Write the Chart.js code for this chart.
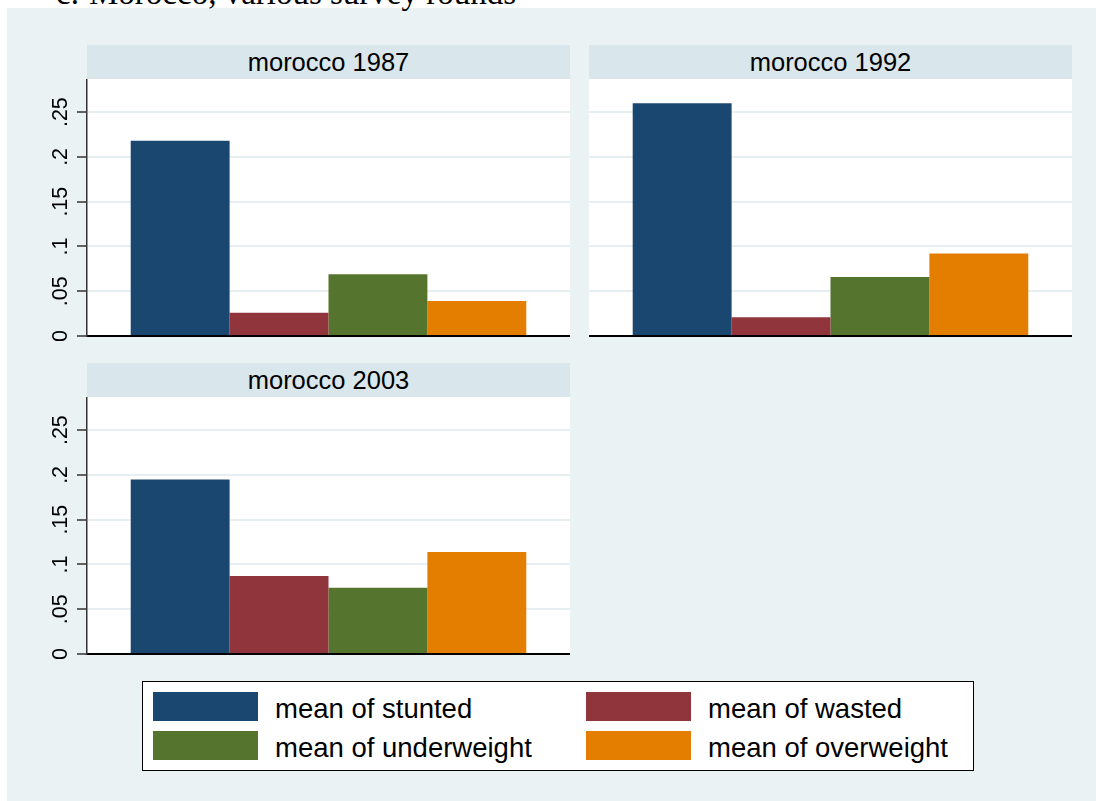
<!DOCTYPE html>
<html>
<head>
<meta charset="utf-8">
<script src="https://cdn.jsdelivr.net/npm/chart.js@4.4.1/dist/chart.umd.min.js"></script>
<style>
  html, body { margin: 0; padding: 0; background: #ffffff; }
  body { width: 1096px; height: 801px; position: relative; overflow: hidden; }
  #region { position: absolute; left: 7px; top: 8px; right: 0; bottom: 0; background: #eaf2f3; }
  .caption { position: absolute; font-family: "Liberation Serif", "Times New Roman", serif; font-size: 33px; line-height: 33px; color: #000; white-space: nowrap; }
  .strip { position: absolute; height: 34px; line-height: 34px; background: #d9e6eb; text-align: center;
           font-family: "Liberation Sans", Arial, Helvetica, sans-serif; font-size: 25.5px; color: #000; }
  canvas { position: absolute; }
  #legend { position: absolute; left: 142px; top: 681px; width: 830px; height: 88px; background: #fff; border: 1.5px solid #000; }
  .sw { position: absolute; width: 105px; height: 29px; }
  .lt { position: absolute; font-family: "Liberation Sans", Arial, Helvetica, sans-serif; font-size: 27.5px; line-height: 29px; color: #000; white-space: nowrap; }
</style>
</head>
<body>
<div id="region"></div>
<div class="caption" style="left:56px; top:-23px;">c.</div>
<div class="caption" style="left:89px; top:-23px;">Morocco, various survey rounds</div>

<div class="strip" id="strip0" style="left:87px; top:45px; width:483px;"></div>
<div class="strip" id="strip1" style="left:589px; top:45px; width:483px;"></div>
<div class="strip" id="strip2" style="left:87px; top:363px; width:483px;"></div>

<canvas id="c0" width="570" height="262" style="left:0px; top:79px;"></canvas>
<canvas id="c1" width="483" height="262" style="left:589px; top:79px;"></canvas>
<canvas id="c2" width="570" height="262" style="left:0px; top:397px;"></canvas>

<div id="legend"></div>

<script>
// Survey rounds (one panel each)
const panels = ['morocco 1987', 'morocco 1992', 'morocco 2003'];

// Share of children per indicator, by survey round
const stunted     = [0.218, 0.260, 0.195];
const wasted      = [0.026, 0.021, 0.087];
const underweight = [0.069, 0.066, 0.074];
const overweight  = [0.039, 0.092, 0.114];

// Value axis
const yTicks = [0, 0.05, 0.1, 0.15, 0.2, 0.25];
const yTickLabels = ['0', '.05', '.1', '.15', '.2', '.25'];
const yMax = 0.287;

const seriesNames = ['mean of stunted', 'mean of wasted', 'mean of underweight', 'mean of overweight'];
const seriesValues = [stunted, wasted, underweight, overweight];
const seriesColors = ['#1a476f', '#90353b', '#55752f', '#e37e00'];

// White plot region behind the bars
const plotBackground = {
  id: 'plotBackground',
  beforeDraw(chart) {
    const { ctx, chartArea: a } = chart;
    ctx.save();
    ctx.fillStyle = '#ffffff';
    ctx.fillRect(a.left, a.top, a.right - a.left, a.bottom - a.top);
    ctx.restore();
  }
};

// Vertical (rotated) tick labels on the left axis
const rotatedTicks = {
  id: 'rotatedTicks',
  afterDraw(chart, args, opts) {
    if (!opts.show) return;
    const scale = chart.scales.y;
    const ctx = chart.ctx;
    ctx.save();
    ctx.font = '21.5px "Liberation Sans", Arial, Helvetica, sans-serif';
    ctx.fillStyle = '#000';
    ctx.textAlign = 'center';
    ctx.textBaseline = 'alphabetic';
    scale.ticks.forEach((t, i) => {
      const y = scale.getPixelForValue(t.value);
      ctx.save();
      ctx.translate(scale.right - 20, y);
      ctx.rotate(-Math.PI / 2);
      ctx.fillText(yTickLabels[i], 0, 0);
      ctx.restore();
    });
    ctx.restore();
  }
};

function makePanel(idx, showAxis) {
  document.getElementById('strip' + idx).textContent = panels[idx];
  const axisWidth = showAxis ? 87 : 0;
  new Chart(document.getElementById('c' + idx), {
    type: 'bar',
    data: {
      labels: [panels[idx]],
      datasets: seriesNames.map((name, s) => ({
        label: name,
        data: [seriesValues[s][idx]],
        backgroundColor: seriesColors[s],
        borderWidth: 0
      }))
    },
    options: {
      responsive: false,
      devicePixelRatio: 1,
      animation: false,
      events: [],
      layout: { padding: { left: 0, right: 0, top: 0, bottom: 5 } },
      datasets: { bar: { categoryPercentage: 0.819, barPercentage: 1.0 } },
      plugins: {
        legend: { display: false },
        title: { display: false },
        tooltip: { enabled: false },
        rotatedTicks: { show: showAxis }
      },
      scales: {
        x: {
          type: 'category',
          grid: { display: false, drawTicks: false },
          ticks: { display: false },
          border: { display: true, color: '#000', width: 2 },
          afterFit(scale) { scale.height = 0; }
        },
        y: {
          type: 'linear',
          min: 0,
          max: yMax,
          afterBuildTicks(scale) { scale.ticks = yTicks.map(v => ({ value: v })); },
          ticks: { display: false },
          grid: {
            color: (c) => c.tick && c.tick.value === 0 ? 'rgba(0,0,0,0)' : '#e7eff2',
            lineWidth: 2,
            drawTicks: showAxis,
            tickLength: 10,
            tickColor: '#333',
            tickWidth: 1.5
          },
          border: { display: showAxis, color: '#333', width: 1.5 },
          afterFit(scale) { scale.width = axisWidth; }
        }
      }
    },
    plugins: [plotBackground, rotatedTicks]
  });
}

makePanel(0, true);
makePanel(1, false);
makePanel(2, true);

// Legend: two columns, two rows
const legend = document.getElementById('legend');
const legendPos = [
  { sx: 10, tx: 132, y: 10 },
  { sx: 443, tx: 565, y: 10 },
  { sx: 10, tx: 132, y: 49 },
  { sx: 443, tx: 565, y: 49 }
];
const legendOrder = [0, 1, 2, 3];
legendOrder.forEach((s, k) => {
  const p = legendPos[k];
  const sw = document.createElement('div');
  sw.className = 'sw';
  sw.style.left = p.sx + 'px';
  sw.style.top = p.y + 'px';
  sw.style.background = seriesColors[s];
  legend.appendChild(sw);
  const t = document.createElement('div');
  t.className = 'lt';
  t.style.left = p.tx + 'px';
  t.style.top = (p.y + 2) + 'px';
  t.textContent = seriesNames[s];
  legend.appendChild(t);
});
</script>
</body>
</html>
